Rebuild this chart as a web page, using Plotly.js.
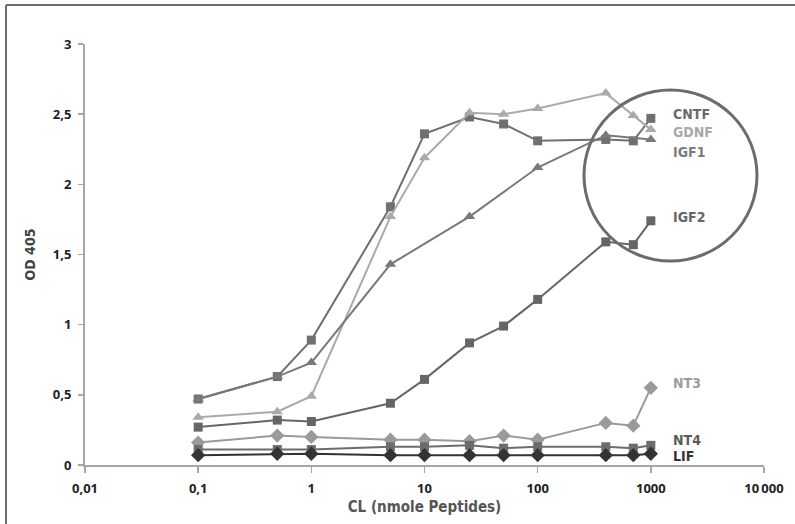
<!DOCTYPE html>
<html>
<head>
<meta charset="utf-8">
<script src="https://cdn.plot.ly/plotly-3.0.1.min.js"></script>
<style>html,body{margin:0;padding:0;background:#fff;}#chart{width:795px;height:524px;}</style>
</head>
<body>
<div id="chart"></div>
<script>
// Concentrations (nmole peptides)
const concAll = [0.1, 0.5, 1, 5, 10, 25, 50, 100, 400, 700, 1000];
const concIGF1 = [0.1, 0.5, 1, 5, 25, 100, 400, 1000];

const cntf = [0.47, 0.63, 0.89, 1.84, 2.36, 2.48, 2.43, 2.31, 2.32, 2.31, 2.47];
const gdnf = [0.34, 0.38, 0.49, 1.77, 2.19, 2.51, 2.50, 2.54, 2.65, 2.49, 2.39];
const igf1 = [0.47, 0.63, 0.73, 1.43, 1.77, 2.12, 2.35, 2.32];
const igf2 = [0.27, 0.32, 0.31, 0.44, 0.61, 0.87, 0.99, 1.18, 1.59, 1.57, 1.74];
const nt3  = [0.16, 0.21, 0.20, 0.18, 0.18, 0.17, 0.21, 0.18, 0.30, 0.28, 0.55];
const nt4  = [0.11, 0.11, 0.11, 0.13, 0.13, 0.14, 0.12, 0.13, 0.13, 0.12, 0.14];
const lif  = [0.07, 0.08, 0.08, 0.07, 0.07, 0.07, 0.07, 0.07, 0.07, 0.07, 0.08];

const xTickVals = [0.01, 0.1, 1, 10, 100, 1000, 10000];
const xTickText = ['0,01', '0,1', '1', '10', '100', '1000', '10\u2009000'];
const yTickVals = [0, 0.5, 1, 1.5, 2, 2.5, 3];
const yTickText = ['0', '0,5', '1', '1,5', '2', '2,5', '3'];

const seriesNames = ['CNTF', 'GDNF', 'IGF1', 'IGF2', 'NT3', 'NT4', 'LIF'];
const labelY = [114, 132, 152, 217, 383, 440, 456]; // label pixel rows
const labelColors = ['#6a6a6a', '#a8a8a8', '#7c7c7c', '#666666', '#9c9c9c', '#5c5c5c', '#333333'];

function tr(name, x, y, color, symbol, size) {
  return {
    x: x, y: y, name: name, type: 'scatter', mode: 'lines+markers',
    line: {color: color, width: 2},
    marker: {color: color, symbol: symbol, size: size},
    cliponaxis: false
  };
}

const data = [
  tr('CNTF', concAll, cntf, '#707070', 'square', 9),
  tr('GDNF', concAll, gdnf, '#aaaaaa', 'triangle-up', 10),
  tr('IGF1', concIGF1, igf1, '#797979', 'triangle-up', 10),
  tr('IGF2', concAll, igf2, '#666666', 'square', 9),
  tr('NT3', concAll, nt3, '#9a9a9a', 'diamond', 11),
  tr('NT4', concAll, nt4, '#6c6c6c', 'square', 9),
  tr('LIF', concAll, lif, '#333333', 'diamond', 11)
];

// pixel -> paper helpers (plot area 85..764 x, 44..465 y)
const L = 85, R = 764, T = 44, B = 465;
const px = v => (v - L) / (R - L);
const py = v => (B - v) / (B - T);

const annotations = seriesNames.map((n, i) => ({
  text: n, xref: 'paper', yref: 'paper', x: px(671), y: py(labelY[i]),
  xanchor: 'left', yanchor: 'middle', showarrow: false,
  font: {family: 'Liberation Sans Narrow, DejaVu Sans Condensed, sans-serif', size: 14, color: labelColors[i], weight: 'bold'}
}));

const layout = {
  width: 795, height: 524,
  margin: {l: L, r: 795 - R, t: T, b: 524 - B},
  paper_bgcolor: '#ffffff', plot_bgcolor: '#ffffff',
  showlegend: false,
  font: {family: 'Open Sans, sans-serif', color: '#222'},
  xaxis: {
    type: 'log', range: [-2, 4],
    tickvals: xTickVals, ticktext: xTickText,
    showgrid: false, zeroline: false,
    showline: true, linecolor: '#a6a6a6', linewidth: 2,
    ticks: 'outside', ticklen: 6, tickwidth: 1.5, tickcolor: '#a6a6a6',
    tickfont: {family: 'Open Sans, sans-serif', size: 13, color: '#222', weight: 'bold'},
    ticklabelstandoff: 4,
    title: {text: 'CL (nmole Peptides)', standoff: 6,
      font: {family: 'Liberation Sans Narrow, DejaVu Sans Condensed, sans-serif', size: 15, color: '#555', weight: 'bold'}}
  },
  yaxis: {
    range: [0, 3],
    tickvals: yTickVals, ticktext: yTickText,
    showgrid: false, zeroline: false,
    showline: true, linecolor: '#a6a6a6', linewidth: 2,
    ticks: 'outside', ticklen: 5, tickwidth: 1.5, tickcolor: '#a6a6a6',
    tickfont: {family: 'Open Sans, sans-serif', size: 13, color: '#222', weight: 'bold'},
    ticklabelstandoff: 4,
    title: {text: 'OD 405', standoff: 14,
      font: {family: 'Liberation Sans Narrow, DejaVu Sans Condensed, sans-serif', size: 14, color: '#444', weight: 'bold'}}
  },
  annotations: annotations,
  shapes: [
    {type: 'circle', xref: 'paper', yref: 'paper',
      x0: px(584), x1: px(757), y0: py(261), y1: py(90),
      line: {color: '#6c6c6c', width: 3}},
    {type: 'line', xref: 'paper', yref: 'paper', x0: px(6), x1: px(6), y0: py(5), y1: py(524),
      line: {color: '#6c6c6c', width: 2}},
    {type: 'line', xref: 'paper', yref: 'paper', x0: px(6), x1: px(795), y0: py(5), y1: py(5),
      line: {color: '#6c6c6c', width: 2}}
  ]
};

Plotly.newPlot('chart', data, layout, {displayModeBar: false, staticPlot: true});
</script>
</body>
</html>
